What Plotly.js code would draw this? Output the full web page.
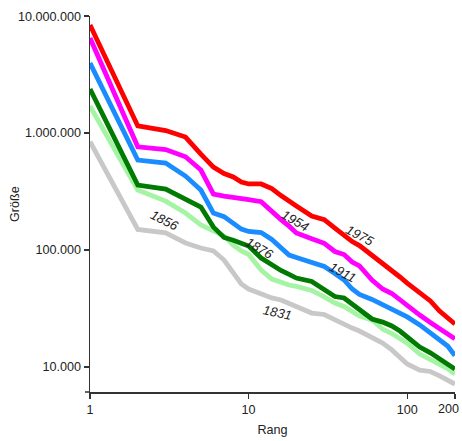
<!DOCTYPE html>
<html>
<head>
<meta charset="utf-8">
<script src="https://cdn.plot.ly/plotly-3.0.1.min.js"></script>
<style>html,body{margin:0;padding:0;background:#fff;}#chart{width:462px;height:441px;}</style>
</head>
<body>
<div id="chart"></div>
<script>
const ranks = [1,2,3,4,5,6,7,8,9,10,12,14,16,18,20,25,30,35,40,45,50,60,70,80,90,100,120,140,160,180,200];

const y1831 = [843000,150000,140000,115000,104000,98100,82100,63600,51200,46400,42100,38900,37400,34900,32900,28900,28100,25200,22900,21500,20300,17700,16000,14000,12200,10600,9400,9150,8400,7700,7150];
const y1856 = [1700000,326000,262000,207000,164000,147000,132000,110000,98100,91500,67500,56500,52800,50200,48800,45100,39700,35200,32900,29500,27300,25200,21100,19300,17700,16000,12900,11500,10500,9700,8700];
const y1876 = [2380000,359000,332000,273000,233000,157000,128000,121000,115000,108000,85400,74400,66800,61800,57600,53800,45500,40000,38900,34600,30700,25700,24200,22400,20300,18000,14800,13200,11700,10600,9600];
const y1911 = [3970000,588000,554000,429000,326000,207000,193000,168000,151000,144000,141000,123000,103000,90600,86300,78200,72300,63000,55400,46400,41700,37800,33900,31000,28700,26800,22900,19500,17000,15100,12500];
const y1954 = [6490000,763000,723000,627000,483000,301000,289000,284000,276000,270000,259000,211000,182000,160000,140000,125000,114000,97100,91500,79000,73000,55400,46400,42500,37400,33500,27800,24000,21300,19300,17400];
const y1975 = [8400000,1150000,1050000,924000,661000,512000,451000,421000,381000,367000,367000,335000,292000,260000,238000,195000,182000,154000,134000,118000,109000,90600,75900,66100,58800,52200,42900,36700,30100,26200,23300];

const years = ['1831','1856','1876','1911','1954','1975'];
const yTickVals = [10000,100000,1000000,10000000];
const yTickText = ['10.000','100.000','1.000.000','10.000.000'];
const xTickVals = [1,10,100,200];
const xTickText = ['1','10','100',''];
const lastTickText = '200';

const series = [y1831,y1856,y1876,y1911,y1954,y1975];
const colors = ['#c8c8c8','#a4f4a4','#007a00','#1a8cff','#ff00ff','#ff0000'];

const traces = series.map((ys,i)=>({
  x: ranks, y: ys, type:'scatter', mode:'lines', name: years[i],
  line:{color:colors[i], width:4.8}, hoverinfo:'skip'
}));

const labelFont = {family:'Liberation Sans, Arial, sans-serif', size:13, color:'#222', style:'italic'};
const labelPos = {
  '1856':[0.473,5.256,27], '1876':[1.072,5.017,30], '1954':[1.293,5.256,30],
  '1975':[1.702,5.120,28], '1911':[1.595,4.812,28], '1831':[1.179,4.470,12]
};
const font = {family:'Liberation Sans, Arial, sans-serif', size:12.6, color:'#222'};
const annotations = years.map(yr=>({
  x:labelPos[yr][0], y:labelPos[yr][1], xref:'x', yref:'y', text:yr,
  showarrow:false, textangle:labelPos[yr][2], font:labelFont
}));
annotations.push({xref:'paper', yref:'paper', x:1.0167, y:0, yshift:-17, xanchor:'right', yanchor:'middle',
  text:lastTickText, showarrow:false, font:font});
annotations.push({xref:'paper', yref:'paper', x:-0.2055, y:0.5, xanchor:'center', yanchor:'middle',
  text:'Größe', textangle:-90, showarrow:false, font:font});

const layout = {
  width:462, height:441,
  margin:{l:90, r:7, t:16, b:49, pad:0},
  paper_bgcolor:'#fff', plot_bgcolor:'#fff',
  showlegend:false, font:font,
  xaxis:{type:'log', range:[-0.0002,2.3015], tickvals:xTickVals, ticktext:xTickText,
    ticks:'outside', ticklen:5, tickwidth:1.3, tickcolor:'#333',
    showline:true, linecolor:'#333', linewidth:1.5, showgrid:false, zeroline:false,
    tickfont:font, title:{text:'Rang', font:font, standoff:9}, automargin:false},
  yaxis:{type:'log', range:[3.786,7.0008], tickvals:yTickVals, ticktext:yTickText,
    ticks:'outside', ticklen:5, tickwidth:1.3, tickcolor:'#333',
    showline:true, linecolor:'#333', linewidth:1.5, showgrid:false, zeroline:false,
    tickfont:font, automargin:false},
  shapes:[{type:'line', xref:'paper', yref:'paper', x0:-5/365, x1:0, y0:0, y1:0,
    line:{color:'#333', width:1.5}}],
  annotations: annotations
};

Plotly.newPlot('chart', traces, layout, {displayModeBar:false, staticPlot:true});
</script>
</body>
</html>
